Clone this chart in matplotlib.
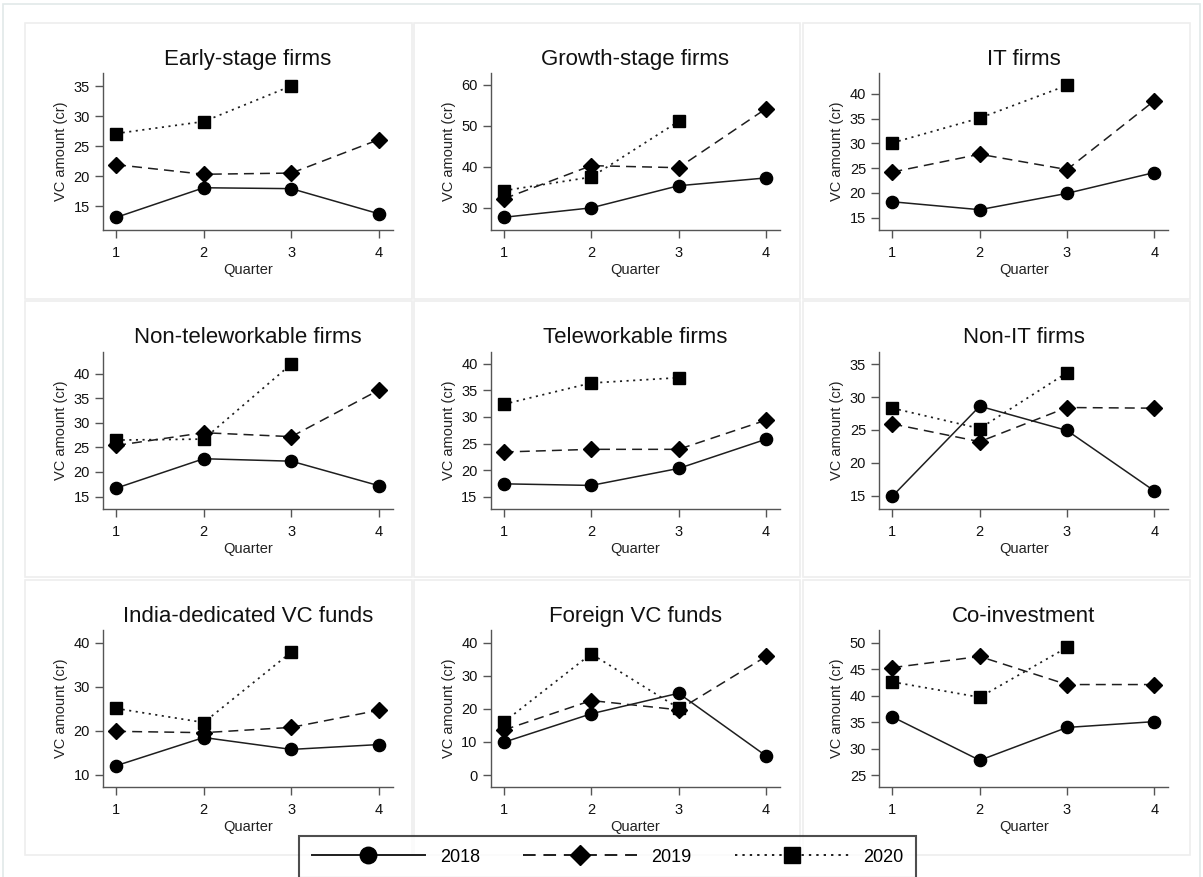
import matplotlib
matplotlib.use('Agg')
import matplotlib.pyplot as plt
from matplotlib.patches import Rectangle
from matplotlib.lines import Line2D

W, H = 1203, 877

quarters = [1, 2, 3, 4]
panel_titles = [
    'Early-stage firms', 'Growth-stage firms', 'IT firms',
    'Non-teleworkable firms', 'Teleworkable firms', 'Non-IT firms',
    'India-dedicated VC funds', 'Foreign VC funds', 'Co-investment',
]
vc_2018 = [
    [13.1, 18.05, 17.9, 13.7],
    [27.7, 30.0, 35.4, 37.3],
    [18.2, 16.6, 19.9, 24.1],
    [16.7, 22.7, 22.2, 17.2],
    [17.4, 17.1, 20.3, 25.8],
    [14.9, 28.6, 24.9, 15.7],
    [12.1, 18.5, 15.8, 16.9],
    [9.9, 18.5, 24.7, 5.8],
    [36.0, 27.8, 34.0, 35.1],
]
vc_2019 = [
    [21.9, 20.3, 20.5, 26.1],
    [32.2, 40.3, 39.8, 54.2],
    [24.2, 27.8, 24.7, 38.6],
    [25.4, 28.0, 27.2, 36.7],
    [23.4, 23.9, 23.9, 29.4],
    [25.9, 23.2, 28.4, 28.3],
    [19.9, 19.6, 20.8, 24.7],
    [13.6, 22.5, 19.7, 35.8],
    [45.3, 47.4, 42.1, 42.1],
]
# 2020 only has the first three quarters
vc_2020 = [
    [27.1, 29.1, 35.05],
    [34.2, 37.5, 51.1],
    [30.1, 35.1, 41.7],
    [26.5, 26.7, 42.0],
    [32.4, 36.4, 37.4],
    [28.3, 25.2, 33.7],
    [25.1, 21.9, 37.9],
    [16.0, 36.6, 20.2],
    [42.6, 39.7, 49.1],
]
y_ticks = [
    [15, 20, 25, 30, 35],
    [30, 40, 50, 60],
    [15, 20, 25, 30, 35, 40],
    [15, 20, 25, 30, 35, 40],
    [15, 20, 25, 30, 35, 40],
    [15, 20, 25, 30, 35],
    [10, 20, 30, 40],
    [0, 10, 20, 30, 40],
    [25, 30, 35, 40, 45, 50],
]
y_limits = [
    (11.0, 37.2), (24.6, 62.9), (12.5, 44.2),
    (12.4, 44.5), (12.6, 42.3), (12.9, 36.9),
    (7.2, 42.9), (-3.7, 43.8), (22.7, 52.4),
]
years = ['2018', '2019', '2020']


def frac(l, t, r, b):
    return [l / W, 1 - b / H, (r - l) / W, (b - t) / H]


def main():
    plt.rcParams['font.family'] = ['Liberation Sans', 'DejaVu Sans']
    fig = plt.figure(figsize=(W / 100, H / 100), dpi=100)
    fig.patch.set_facecolor('white')

    # outer frame and panel frames
    fig.patches.append(Rectangle((3 / W, -0.01), 1197 / W, 1 - 4 / H + 0.01,
                                 transform=fig.transFigure, fill=False,
                                 edgecolor='#e2e9e9', lw=1.2))
    frame_cols = [(25, 412), (414, 800), (803, 1190)]
    frame_rows = [(23, 299), (301, 577), (580, 855)]
    for (ft, fb) in frame_rows:
        for (fl, fr) in frame_cols:
            x, y, w, h = frac(fl, ft, fr, fb)
            fig.patches.append(Rectangle((x, y), w, h, transform=fig.transFigure,
                                         fill=False, edgecolor='#eeeeee', lw=1.2))

    lefts = [103, 490.7, 879.3]
    rights = [393, 780, 1168.3]
    tops = [73, 351.7, 630]
    bottoms = [230, 509.3, 787.3]

    line_col = '#1e1e1e'
    styles = [
        dict(ls='-', marker='o', ms=8.8, lw=1.1),
        dict(ls=(0, (6.5, 4.0)), marker='D', ms=7.8, lw=1.1),
        dict(ls=(0, (1.2, 2.6)), marker='s', ms=8.3, lw=1.25),
    ]

    for i in range(9):
        r, c = divmod(i, 3)
        ax = fig.add_axes(frac(lefts[c], tops[r], rights[c], bottoms[r]))
        series = [vc_2018[i], vc_2019[i], vc_2020[i]]
        for vals, st in zip(series, styles):
            ax.plot(quarters[:len(vals)], vals, color=line_col, lw=st['lw'],
                    ls=st['ls'], marker=st['marker'], ms=st['ms'],
                    mfc='black', mec='black', clip_on=False)
        ax.set_xlim(0.85, 4.16)
        ax.set_ylim(*y_limits[i])
        ax.set_xticks(quarters)
        ax.set_yticks(y_ticks[i])
        ax.set_title(panel_titles[i], fontsize=16, pad=6, color='#111111')
        ax.set_xlabel('Quarter', fontsize=10.5, labelpad=2, color='#222222')
        ax.set_ylabel('VC amount (cr)', fontsize=10.5, labelpad=4, color='#222222')
        for s in ['top', 'right']:
            ax.spines[s].set_visible(False)
        for s in ['left', 'bottom']:
            ax.spines[s].set_color('#555555')
            ax.spines[s].set_linewidth(1.0)
        ax.tick_params(axis='both', length=5.5, width=1.0, color='#555555',
                       labelsize=10.5, labelcolor='#111111')
        ax.tick_params(axis='x', pad=6)
        ax.tick_params(axis='y', pad=4)
        ax.set_facecolor('none')

    handles = [Line2D([], [], color=line_col, lw=1.4, ls=st['ls'], marker=st['marker'],
                      ms=st['ms'] * 1.35, mfc='black', mec='black')
               for st in styles]
    leg = fig.legend(handles, years, loc='center', ncol=3,
                     bbox_to_anchor=(607.5 / W, 1 - 857 / H),
                     fontsize=13, handlelength=6.3, handletextpad=0.8,
                     columnspacing=2.4, frameon=True, fancybox=False,
                     borderpad=0.7, markerscale=1.0)
    leg.get_frame().set_edgecolor('#222222')
    leg.get_frame().set_linewidth(1.5)

    fig.savefig('out.png', dpi=100)


if __name__ == '__main__':
    main()
